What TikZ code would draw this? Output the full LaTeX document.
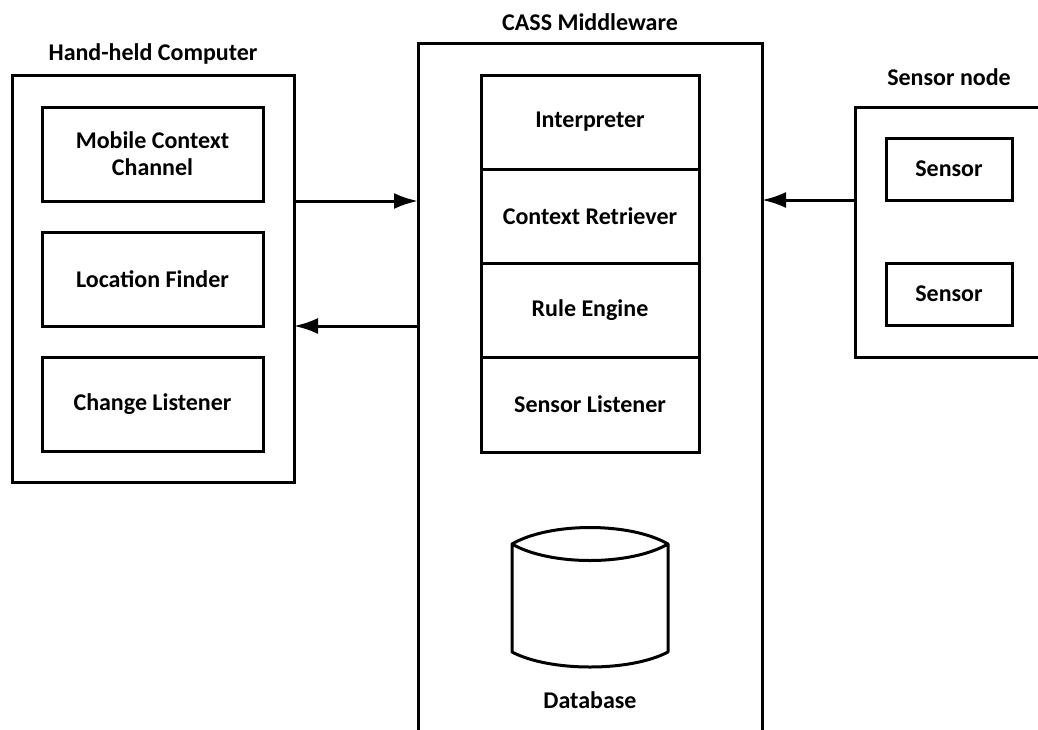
\documentclass[tikz,border=0pt]{standalone}
\usepackage{fontspec}
\setmainfont{Carlito}
\usetikzlibrary{arrows.meta,positioning}

\tikzset{
    unit/.style={draw, line width=3pt, outer sep=0pt, inner sep=0pt, align=center},
    frame/.style={draw, line width=3pt, outer sep=0pt},
    heading/.style={inner sep=0pt},
    flow/.style={line width=3pt, -{Latex[length=24pt,width=16pt]}}
}

\begin{document}
\begin{tikzpicture}[x=1pt, y=-1pt, font=\fontsize{24}{27}\selectfont\bfseries]

\useasboundingbox (0,0) rectangle (1038,729);
\clip (0,0) rectangle (1038,729);

% Hand-held computer
\node[frame, minimum width=282pt, minimum height=407pt] (hand) at (153,278.5) {};
\node[heading, above=11pt of hand] (handtitle) {Hand-held Computer};
\node[unit, minimum width=221pt, minimum height=94pt] (mcc) at (152.5,154) {Mobile Context\\Channel};
\node[unit, minimum width=221pt, minimum height=94pt] (finder) at (152.5,279) {Location Finder};
\node[unit, minimum width=221pt, minimum height=94pt] (change) at (152.5,404) {Change Listener};

% CASS middleware (runs off the bottom)
\node[frame, minimum width=344pt, minimum height=737pt] (mw) at (590,411.5) {};
\node[heading, above=12pt of mw] (mwtitle) {CASS Middleware};
\node[unit, minimum width=218pt, minimum height=94pt] (interp) at (590,122) {Interpreter};
\node[unit, minimum width=218pt, minimum height=94pt, below=0pt of interp] (retriever) {Context Retriever};
\node[unit, minimum width=218pt, minimum height=94pt, below=0pt of retriever] (rules) {Rule Engine};
\node[unit, minimum width=218pt, minimum height=95pt, below=0pt of rules] (listener) {Sensor Listener};

% Database
\draw[line width=3pt, line join=round]
    (512,544) .. controls (550,522) and (630,522) .. (668,544)
    .. controls (630,566) and (550,566) .. (512,544)
    -- (512,652) .. controls (550,672) and (630,672) .. (668,652) -- (668,544);
\node[heading] (db) at (590,700) {Database};

% Sensor node (runs off the right)
\node[frame, minimum width=245pt, minimum height=250pt] (snode) at (977.5,232) {};
\node[unit, minimum width=126pt, minimum height=62pt] (sa) at (949,169) {Sensor};
\node[unit, minimum width=126pt, minimum height=62pt] (sb) at (949,294) {Sensor};
\node[heading, above=52pt of sa] (stitle) {Sensor node};

% Arrows
\draw[flow] (hand.east |- mcc.south) -- (mw.west |- mcc.south);
\draw[flow] (mw.west |- finder.south) -- (hand.east |- finder.south);
\draw[flow] (snode.west |- sa.south) -- (mw.east |- sa.south);

\end{tikzpicture}
\end{document}
